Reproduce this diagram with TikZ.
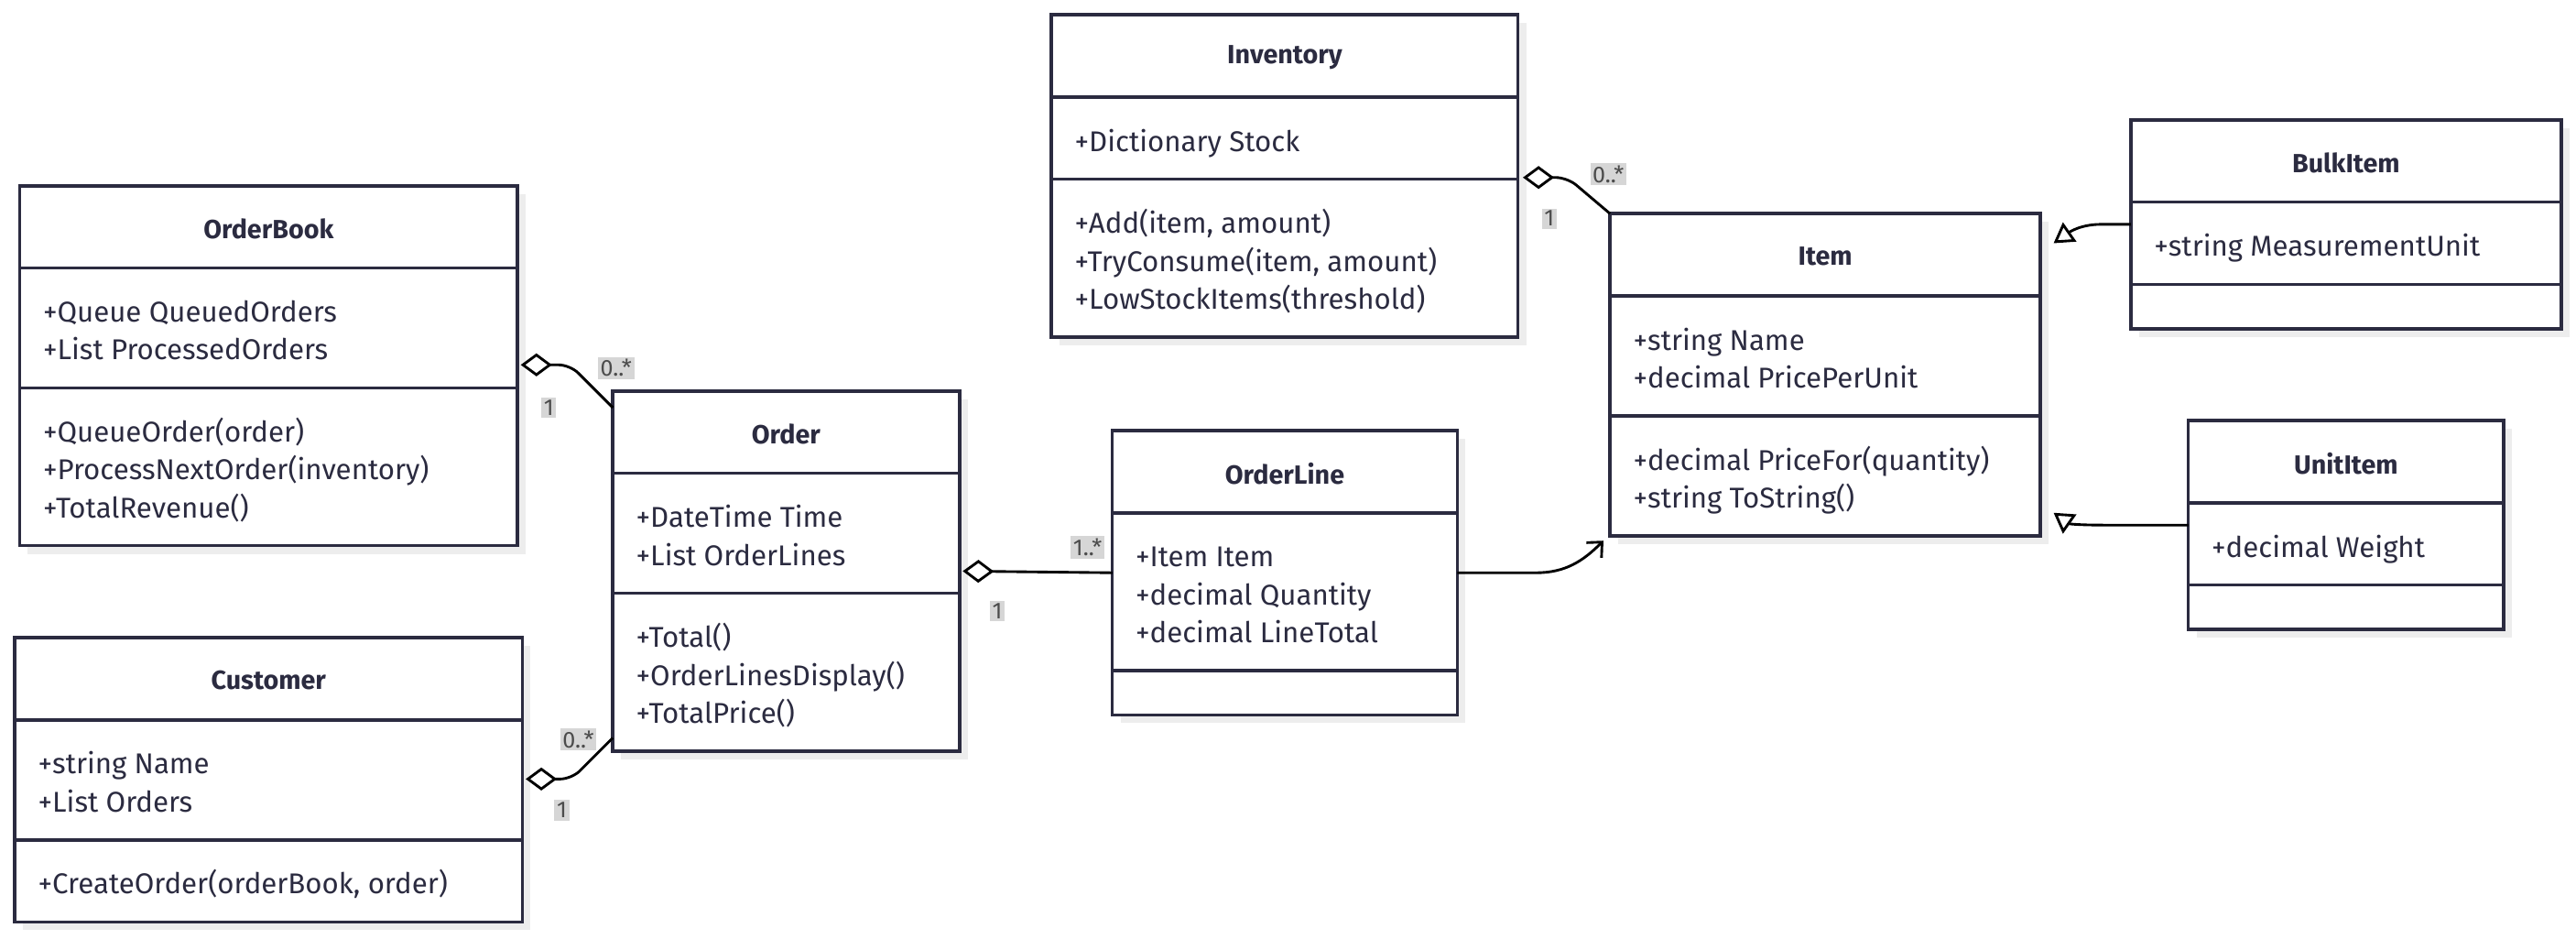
\documentclass[tikz,border=0pt]{standalone}
\usepackage{fontspec}
\setmainfont{Fira Sans}
\usetikzlibrary{positioning, calc, arrows.meta, shadows}
\definecolor{classline}{HTML}{2B2B40}
\definecolor{multbg}{HTML}{D6D6D6}

\begin{document}
\begin{tikzpicture}[x=1pt, y=1pt,
    classbox/.style={draw=classline, line width=2pt, fill=white, anchor=north west, outer sep=0pt, inner sep=0pt,
      drop shadow={shadow xshift=5pt, shadow yshift=-5pt, fill=black!7, opacity=1}},
    divider/.style={draw=classline, line width=2pt},
    classname/.style={font=\fontsize{16}{23}\selectfont\bfseries, text=classline, inner sep=0pt},
    members/.style={font=\fontsize{17.4}{23}\selectfont, text=classline, align=left, anchor=base west, inner sep=0pt},
    mult/.style={font=\fontsize{14}{16}\selectfont, fill=multbg, text=black!70, inner sep=1.5pt},
    aggr/.style={{Diamond[open, length=19pt, width=14pt]}-, line width=1.6pt, rounded corners=7pt},
    assoc/.style={-{Straight Barb[length=7pt, width=13pt]}, line width=1.6pt},
    inherit/.style={-{Triangle[open, length=12pt, width=14pt]}, line width=1.6pt}]
  \useasboundingbox (0,0) rectangle (1568,571);

  % class boxes
  \node (ob) [classbox, minimum width=303, minimum height=219] at (12,458) {};
  \node (cu) [classbox, minimum width=309, minimum height=173] at (9,183) {};
  \node (or) [classbox, minimum width=211, minimum height=219] at (373,333) {};
  \node (inv) [classbox, minimum width=284, minimum height=196] at (640,562) {};
  \node (ol) [classbox, minimum width=210, minimum height=173] at (677,309) {};
  \node (it) [classbox, minimum width=262, minimum height=196] at (980,441) {};
  \node (bi) [classbox, minimum width=262, minimum height=127] at (1297,498) {};
  \node (ui) [classbox, minimum width=192, minimum height=127] at (1332,315) {};

  % OrderBook (member texts sit on their last line)
  \node (obname) [classname] at ($(ob.north)+(0,-26)$) {OrderBook};
  \draw [divider] ($(ob.north west)+(0,-50)$) -- ($(ob.north east)+(0,-50)$);
  \draw [divider] ($(ob.north west)+(0,-123)$) -- ($(ob.north east)+(0,-123)$);
  \node (obattr) [members] at ($(ob.north west)+(14,-106)$) {+Queue QueuedOrders\\+List ProcessedOrders};
  \node (obmeth) [members] at ($(ob.north west)+(14,-202)$) {+QueueOrder(order)\\+ProcessNextOrder(inventory)\\+TotalRevenue()};

  % Customer
  \node (cuname) [classname] at ($(cu.north)+(0,-26)$) {Customer};
  \draw [divider] ($(cu.north west)+(0,-50)$) -- ($(cu.north east)+(0,-50)$);
  \draw [divider] ($(cu.north west)+(0,-123)$) -- ($(cu.north east)+(0,-123)$);
  \node (cuattr) [members] at ($(cu.north west)+(14,-106)$) {+string Name\\+List Orders};
  \node (cumeth) [members] at ($(cu.north west)+(14,-156)$) {+CreateOrder(orderBook, order)};

  % Order
  \node (orname) [classname] at ($(or.north)+(0,-26)$) {Order};
  \draw [divider] ($(or.north west)+(0,-50)$) -- ($(or.north east)+(0,-50)$);
  \draw [divider] ($(or.north west)+(0,-123)$) -- ($(or.north east)+(0,-123)$);
  \node (orattr) [members] at ($(or.north west)+(14,-106)$) {+DateTime Time\\+List OrderLines};
  \node (ormeth) [members] at ($(or.north west)+(14,-202)$) {+Total()\\+OrderLinesDisplay()\\+TotalPrice()};

  % Inventory
  \node (invname) [classname] at ($(inv.north)+(0,-26)$) {Inventory};
  \draw [divider] ($(inv.north west)+(0,-50)$) -- ($(inv.north east)+(0,-50)$);
  \draw [divider] ($(inv.north west)+(0,-100)$) -- ($(inv.north east)+(0,-100)$);
  \node (invattr) [members] at ($(inv.north west)+(14,-83)$) {+Dictionary Stock};
  \node (invmeth) [members] at ($(inv.north west)+(14,-179)$) {+Add(item, amount)\\+TryConsume(item, amount)\\+LowStockItems(threshold)};

  % OrderLine
  \node (olname) [classname] at ($(ol.north)+(0,-26)$) {OrderLine};
  \draw [divider] ($(ol.north west)+(0,-50)$) -- ($(ol.north east)+(0,-50)$);
  \draw [divider] ($(ol.north west)+(0,-146)$) -- ($(ol.north east)+(0,-146)$);
  \node (olattr) [members] at ($(ol.north west)+(14,-129)$) {+Item Item\\+decimal Quantity\\+decimal LineTotal};

  % Item
  \node (itname) [classname] at ($(it.north)+(0,-26)$) {Item};
  \draw [divider] ($(it.north west)+(0,-50)$) -- ($(it.north east)+(0,-50)$);
  \draw [divider] ($(it.north west)+(0,-123)$) -- ($(it.north east)+(0,-123)$);
  \node (itattr) [members] at ($(it.north west)+(14,-106)$) {+string Name\\+decimal PricePerUnit};
  \node (itmeth) [members] at ($(it.north west)+(14,-179)$) {+decimal PriceFor(quantity)\\+string ToString()};

  % BulkItem
  \node (biname) [classname] at ($(bi.north)+(0,-26)$) {BulkItem};
  \draw [divider] ($(bi.north west)+(0,-50)$) -- ($(bi.north east)+(0,-50)$);
  \draw [divider] ($(bi.north west)+(0,-100)$) -- ($(bi.north east)+(0,-100)$);
  \node (biattr) [members] at ($(bi.north west)+(14,-83)$) {+string MeasurementUnit};

  % UnitItem
  \node (uiname) [classname] at ($(ui.north)+(0,-26)$) {UnitItem};
  \draw [divider] ($(ui.north west)+(0,-50)$) -- ($(ui.north east)+(0,-50)$);
  \draw [divider] ($(ui.north west)+(0,-100)$) -- ($(ui.north east)+(0,-100)$);
  \node (uiattr) [members] at ($(ui.north west)+(14,-83)$) {+decimal Weight};

  % connectors
  \draw [aggr] ($(ob.north east)+(2,-109)$) -- ++(30,0) -- ($(or.north west)+(0,-10)$);
  \draw [aggr] ($(cu.north east)+(2,-86)$) -- ++(28,0) -- ($(or.south west)+(0,8)$);
  \draw [aggr] ($(inv.north east)+(3,-99)$) -- ++(27,0) -- (it.north west);
  \draw [aggr] ($(or.east)+(2,0)$) -- (ol.west);
  \draw [assoc] (ol.east) -- ++(48,0) to[out=0, in=225] ($(it.south west)+(-4,-3)$);
  \draw [inherit] (bi.west) -- ++(-18,0) to[out=180, in=35] ($(it.north east)+(8,-18)$);
  \draw [inherit] (ui.west) -- ++(-52,0) to[out=180, in=-35] ($(it.south east)+(8,14)$);

  % multiplicities
  \node (m1) [mult] at (375,347) {0..*};
  \node (m2) [mult] at (334,323) {1};
  \node (m3) [mult] at (352,121) {0..*};
  \node (m4) [mult] at (342,78) {1};
  \node (m5) [mult] at (662,238) {1..*};
  \node (m6) [mult] at (607,199) {1};
  \node (m7) [mult] at (979,465) {0..*};
  \node (m8) [mult] at (943,438) {1};
\end{tikzpicture}
\end{document}
